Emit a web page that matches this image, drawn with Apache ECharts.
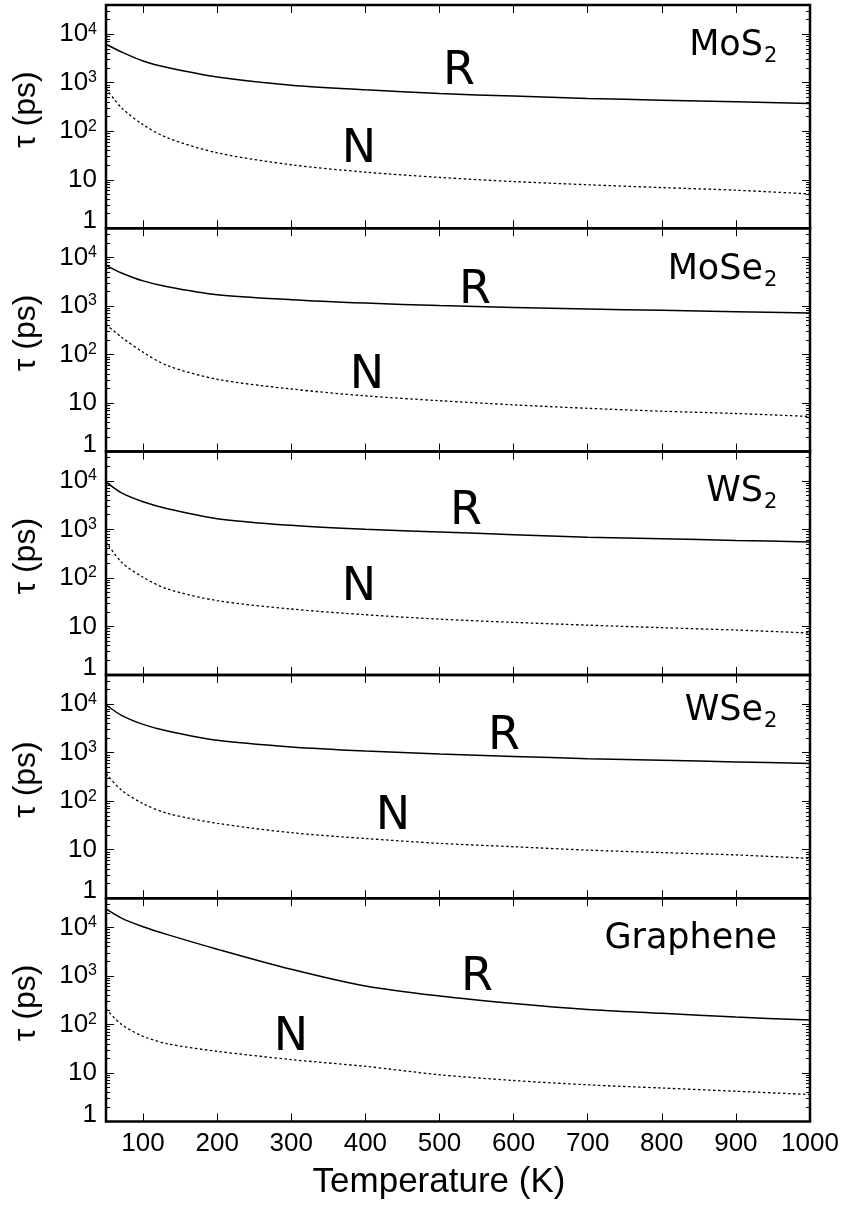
<!DOCTYPE html>
<html lang="en">
<head>
    <meta charset="UTF-8">
    <script src="https://cdn.jsdelivr.net/npm/echarts@6/dist/echarts.min.js"></script>
    <title>Relaxation time vs temperature</title>
    <style>
        html, body { margin: 0; padding: 0; background: #fff; }
        #main { width: 844px; height: 1205px; }
    </style>
</head>
<body>
    <div id="main"></div>
</body>
<script type="text/javascript">
    var temps = [50, 71, 100, 133, 200, 300, 400, 500, 600, 700, 800, 900, 1000];

    // tau (ps), R = solid, N = dotted
    var mos2R  = [6200, 4300, 2800, 2050, 1310, 890, 716, 600, 530, 475, 437, 405, 373];
    var mos2N  = [760, 303, 137, 73, 36, 20.4, 14.4, 11.2, 9.2, 7.9, 6.9, 6.1, 5.1];
    var mose2R = [6900, 4800, 3300, 2500, 1710, 1350, 1150, 1020, 935, 870, 815, 760, 720];
    var mose2N = [420, 228, 112, 59, 31, 19.5, 14.1, 11.2, 9.2, 7.8, 6.8, 6.1, 5.3];
    var ws2R   = [9500, 5630, 3700, 2650, 1660, 1210, 1000, 880, 777, 690, 640, 590, 550];
    var ws2N   = [560, 210, 103, 59, 34, 22.8, 17.4, 14.1, 12.1, 10.6, 9.4, 8.4, 7.3];
    var wse2R  = [9700, 5860, 3820, 2780, 1790, 1310, 1080, 940, 835, 750, 695, 645, 595];
    var wse2N  = [370, 168, 89, 56, 35, 22.4, 17, 13.5, 11.5, 9.8, 8.7, 7.8, 6.6];
    var grapheneR = [24000, 15500, 10300, 7100, 3560, 1370, 620, 385, 270, 204, 170, 142, 123];
    var grapheneN = [210, 100, 57, 40, 28, 18.9, 13.7, 9.2, 7.0, 5.7, 4.9, 4.2, 3.6];

    var panelBase = ['MoS', 'MoSe', 'WS', 'WSe', 'Graphene'];
    var panelSub  = ['2', '2', '2', '2', ''];

    var xTicks = [100, 200, 300, 400, 500, 600, 700, 800, 900, 1000];
    var yMajor = [1, 10, 100, 1000, 10000];
    var yMinor = [2, 3, 4, 5, 6, 7, 8, 9, 20, 30, 40, 50, 60, 70, 80, 90,
                  200, 300, 400, 500, 600, 700, 800, 900,
                  2000, 3000, 4000, 5000, 6000, 7000, 8000, 9000,
                  20000, 30000, 40000];

    var rSets = [mos2R, mose2R, ws2R, wse2R, grapheneR];
    var nSets = [mos2N, mose2N, ws2N, wse2N, grapheneN];

    // layout (pixels)
    var gridLeft = 106, gridRight = 34, panelTop = 5, panelH = 223.3;
    var rPos = [[459, 69], [475, 288], [466, 509], [504, 734], [477, 975]];
    var nPos = [[359, 147], [367, 373], [359, 585], [393, 814], [291, 1035]];
    var nameY = [44, 268, 490, 709, 937];

    var tickFont = 'Liberation Sans';
    var noteFont = '"DejaVu Sans"';

    var chart = echarts.init(document.getElementById('main'));

    var grids = [], xAxes = [], yAxes = [], series = [], graphics = [];

    function supLabel(v) {
        if (v === 1) return '{one|1}';
        if (v < 100) return '{b|' + v + '}';
        return '{b|10}{s|' + Math.round(Math.log10(v)) + '}';
    }

    for (var i = 0; i < 5; i++) {
        var last = i === 4;
        grids.push({
            left: gridLeft, right: gridRight,
            top: panelTop + i * panelH, height: panelH,
            show: true, borderColor: '#000', borderWidth: 2.5,
            backgroundColor: 'transparent',
            outerBoundsMode: 'none'
        });

        ['bottom', 'top'].forEach(function (pos) {
            var showLab = last && pos === 'bottom';
            xAxes.push({
                type: 'value', gridIndex: i, position: pos, min: 50, max: 1000,
                axisLine: {show: false, onZero: false},
                axisTick: {show: true, inside: true, length: 8, customValues: xTicks,
                           lineStyle: {color: '#000', width: 1}},
                axisLabel: {show: showLab, customValues: xTicks, margin: 9,
                            fontSize: 26, fontFamily: tickFont, color: '#000',
                            formatter: function (v) { return String(v); }},
                splitLine: {show: false},
                name: showLab ? 'Temperature (K)' : '',
                nameLocation: 'middle', nameGap: 43,
                nameTextStyle: {fontSize: 35, fontFamily: tickFont, color: '#000',
                                padding: [0, 38, 0, 0]}
            });
        });

        ['left', 'right'].forEach(function (pos) {
            var isLeft = pos === 'left';
            // major ticks (+ labels on the left)
            yAxes.push({
                type: 'log', logBase: 10, gridIndex: i, position: pos, min: 1, max: 40000,
                axisLine: {show: false, onZero: false},
                axisTick: {show: true, inside: true, length: 8, customValues: yMajor,
                           lineStyle: {color: '#000', width: 1}},
                axisLabel: {
                    show: isLeft, customValues: yMajor, margin: 9,
                    fontSize: 26, fontFamily: tickFont, color: '#000',
                    formatter: supLabel,
                    rich: {
                        b: {fontSize: 26, fontFamily: tickFont, color: '#000', lineHeight: 26},
                        s: {fontSize: 16, fontFamily: tickFont, color: '#000', lineHeight: 16, verticalAlign: 'top'},
                        one: {fontSize: 26, fontFamily: tickFont, color: '#000', lineHeight: 26,
                              padding: [0, 0, 14, 0]}
                    }
                },
                splitLine: {show: false},
                name: isLeft ? 'τ (ps)' : '',
                nameLocation: 'middle', nameGap: 64, nameRotate: 90,
                nameTextStyle: {fontSize: 32, fontFamily: tickFont, color: '#000',
                                padding: [0, 0, 0, 14]}
            });
            // minor ticks
            yAxes.push({
                type: 'log', logBase: 10, gridIndex: i, position: pos, min: 1, max: 40000,
                axisLine: {show: false, onZero: false},
                axisTick: {show: true, inside: true, length: 4, customValues: yMinor,
                           lineStyle: {color: '#000', width: 1}},
                axisLabel: {show: false},
                splitLine: {show: false}
            });
        });

        series.push({
            type: 'line', xAxisIndex: 2 * i, yAxisIndex: 4 * i,
            data: temps.map(function (t, j) { return [t, rSets[i][j]]; }),
            showSymbol: false, smooth: 0.3, silent: true,
            lineStyle: {color: '#000', width: 1.5, type: 'solid'}
        });
        series.push({
            type: 'line', xAxisIndex: 2 * i, yAxisIndex: 4 * i,
            data: temps.map(function (t, j) { return [t, nSets[i][j]]; }),
            showSymbol: false, smooth: 0.3, silent: true,
            lineStyle: {color: '#000', width: 1.3, type: [2.5, 2.5]}
        });

        graphics.push({
            type: 'text', silent: true,
            style: {text: 'R', x: rPos[i][0], y: rPos[i][1] + 3, font: '46px ' + noteFont,
                    fill: '#000', align: 'center', verticalAlign: 'middle'}
        });
        graphics.push({
            type: 'text', silent: true,
            style: {text: 'N', x: nPos[i][0], y: nPos[i][1] + 3, font: '46px ' + noteFont,
                    fill: '#000', align: 'center', verticalAlign: 'middle'}
        });
        // material name, with its subscript as a second small text
        var nameRight = panelSub[i] ? 763 : 777;
        graphics.push({
            type: 'text', silent: true,
            style: {text: panelBase[i], x: nameRight, y: nameY[i] + 2,
                    font: '35px ' + noteFont, fill: '#000',
                    align: 'right', verticalAlign: 'middle'}
        });
        if (panelSub[i]) {
            graphics.push({
                type: 'text', silent: true,
                style: {text: panelSub[i], x: nameRight + 1, y: nameY[i] + 13,
                        font: '21px ' + noteFont, fill: '#000',
                        align: 'left', verticalAlign: 'middle'}
            });
        }
    }

    chart.setOption({
        animation: false,
        backgroundColor: '#fff',
        grid: grids,
        xAxis: xAxes,
        yAxis: yAxes,
        series: series,
        graphic: graphics
    });
</script>
</html>
